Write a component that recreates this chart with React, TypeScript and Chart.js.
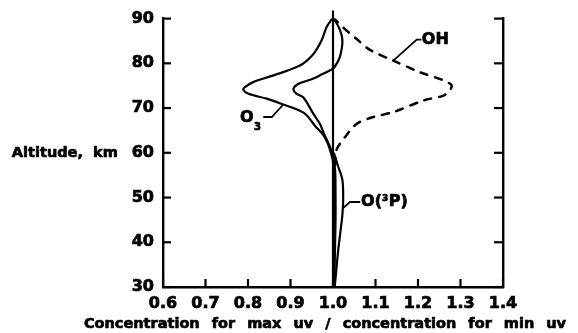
import React, { useEffect, useRef } from "react";
import { Chart, registerables } from "chart.js";

Chart.register(...registerables);

// ---- data (altitude km, ratio) ----
const xTicks = [0.6, 0.7, 0.8, 0.9, 1.0, 1.1, 1.2, 1.3, 1.4];
const yTicks = [30, 40, 50, 60, 70, 80, 90];

const refAlt = [30, 91.8];
const refVal = [1.0, 1.0];

const o3Alt = [90.3, 88.1, 85.1, 82.1, 79.5, 77.3, 75.8, 74.7, 74.1, 73.2, 72.1, 70.8, 69.5, 68.4, 66, 64, 62, 60, 58, 55, 50, 45, 40, 35, 30];
const o3Val = [1.0, 0.985, 0.973, 0.954, 0.922, 0.86, 0.812, 0.793, 0.789, 0.801, 0.844, 0.883, 0.92, 0.938, 0.958, 0.977, 0.988, 0.995, 1.0, 1.002, 1.002, 1.002, 1.001, 1.001, 1.0];

const innerAlt = [90.3, 88, 86, 84.5, 83, 81.4, 80, 78.8, 77.6, 76.6, 75.4, 74.3, 73.3, 72.4, 71, 68.7, 66.5, 64, 61.3, 59, 56, 50, 45, 40, 35, 30];
const innerVal = [1.0, 1.014, 1.021, 1.022, 1.02, 1.016, 1.009, 1.0, 0.975, 0.954, 0.918, 0.907, 0.913, 0.93, 0.94, 0.954, 0.969, 0.98, 0.993, 1.0, 1.005, 1.006, 1.006, 1.005, 1.004, 1.003];

const ohAlt = [90.3, 88, 85.5, 83, 80.6, 78, 76.2, 75.1, 74, 72.8, 71.7, 69.1, 68, 66.5, 63.5, 60.6, 57];
const ohVal = [1.0, 1.024, 1.055, 1.087, 1.142, 1.205, 1.26, 1.279, 1.275, 1.26, 1.213, 1.142, 1.095, 1.056, 1.028, 1.008, 1.005];

const opAlt = [60, 57, 54, 50, 46, 42, 38, 34, 30];
const opVal = [1.002, 1.012, 1.022, 1.024, 1.022, 1.017, 1.012, 1.008, 1.004];

const xTitle = "Concentration for max uv / concentration for min uv";
const yTitle = "Altitude, km";

const pts = (alt: number[], val: number[]) => alt.map((a, i) => ({ x: val[i], y: a }));

const FONT = '"DejaVu Sans", sans-serif';
const STROKE = 0.7;

const annotPlugin = {
  id: "annot",
  afterDraw(chart: any) {
    const { ctx, chartArea } = chart;
    const x = chart.scales.x;
    const y = chart.scales.y;
    const X = (v: number) => x.getPixelForValue(v);
    const Y = (v: number) => y.getPixelForValue(v);
    ctx.save();
    ctx.strokeStyle = "#000";
    ctx.fillStyle = "#000";
    ctx.lineWidth = 2.2;
    const line = (a: number, b: number, c: number, d: number) => {
      ctx.beginPath();
      ctx.moveTo(a, b);
      ctx.lineTo(c, d);
      ctx.stroke();
    };
    // inward ticks
    x.ticks.forEach((t: any) => {
      const px = X(t.value);
      line(px, chartArea.bottom, px, chartArea.bottom - 8);
    });
    y.ticks.forEach((t: any) => {
      const py = Y(t.value);
      line(chartArea.left, py, chartArea.left + 8, py);
      line(chartArea.right, py, chartArea.right - 9, py);
    });
    // leader lines
    ctx.lineWidth = 1.8;
    const poly = (p: number[][]) => {
      ctx.beginPath();
      p.forEach(([vx, vy], i) => (i ? ctx.lineTo(X(vx), Y(vy)) : ctx.moveTo(X(vx), Y(vy))));
      ctx.stroke();
    };
    poly([[1.142, 80.6], [1.197, 85.3], [1.208, 85.3]]);
    poly([[0.883, 70.8], [0.856, 68], [0.836, 68]]);
    poly([[1.022, 47.5], [1.04, 49], [1.064, 49]]);
    // labels
    ctx.lineWidth = STROKE;
    ctx.lineJoin = "round";
    const txt = (s: string, px: number, py: number) => {
      ctx.fillText(s, px, py);
      ctx.strokeText(s, px, py);
    };
    ctx.textBaseline = "middle";
    ctx.textAlign = "left";
    ctx.font = `bold 16px ${FONT}`;
    txt("OH", X(1.209), Y(85.3));
    // O3
    let lx = X(0.781);
    txt("O", lx, Y(67.8));
    lx += ctx.measureText("O").width + 0.5;
    ctx.font = `bold 10px ${FONT}`;
    txt("3", lx, Y(67.8) + 9);
    // O(3P)
    ctx.font = `bold 16px ${FONT}`;
    lx = X(1.066);
    const ly = Y(49);
    txt("O(", lx, ly);
    lx += ctx.measureText("O(").width;
    ctx.font = `bold 9px ${FONT}`;
    txt("3", lx, ly - 3);
    lx += ctx.measureText("3").width + 0.5;
    ctx.font = `bold 16px ${FONT}`;
    txt("P)", lx, ly);
    // y title inline with 60 tick label
    const w60 = ctx.measureText("60").width;
    ctx.textAlign = "right";
    ctx.font = `bold 14.5px ${FONT}`;
    (ctx as any).wordSpacing = "5px";
    txt(yTitle, chartArea.left - 9 - w60 - 14, Y(60));
    // x title
    ctx.textAlign = "center";
    (ctx as any).wordSpacing = "7px";
    txt(xTitle, (chartArea.left + chartArea.right) / 2 - 8, chart.height - 9);
    ctx.restore();
  },
};

export default function App() {
  const ref = useRef<HTMLCanvasElement | null>(null);
  useEffect(() => {
    const base = { showLine: true, pointRadius: 0, borderColor: "#000", borderWidth: 2.2, tension: 0.3, fill: false };
    const tickFont = { family: FONT, size: 16, weight: "bold" };
    const chart = new Chart(ref.current as HTMLCanvasElement, {
      type: "scatter",
      data: {
        datasets: [
          { ...base, label: "ref", data: pts(refAlt, refVal), tension: 0, clip: false } as any,
          { ...base, label: "O3", data: pts(o3Alt, o3Val) },
          { ...base, label: "inner", data: pts(innerAlt, innerVal) },
          { ...base, label: "OH", data: pts(ohAlt, ohVal), borderDash: [7, 8], borderCapStyle: "round", borderWidth: 2.5 },
          { ...base, label: "O(3P)", data: pts(opAlt, opVal) },
        ],
      },
      options: {
        responsive: false,
        animation: false,
        layout: { padding: { top: 18, left: 0, right: 0, bottom: 0 } },
        plugins: { legend: { display: false }, tooltip: { enabled: false } },
        scales: {
          x: {
            type: "linear",
            min: 0.6,
            max: 1.4,
            afterBuildTicks: (s: any) => {
              s.ticks = xTicks.map((v) => ({ value: v }));
            },
            ticks: {
              color: "#000",
              padding: 7,
              font: tickFont,
              textStrokeColor: "#000",
              textStrokeWidth: STROKE,
              callback: (v: any) => Number(v).toFixed(1),
            },
            grid: { drawOnChartArea: false, drawTicks: false },
            border: { color: "#000", width: 2.4 },
            afterFit: (s: any) => {
              s.height = 46;
            },
          },
          y: {
            type: "linear",
            position: "left",
            min: 30,
            max: 90,
            afterBuildTicks: (s: any) => {
              s.ticks = yTicks.map((v) => ({ value: v }));
            },
            ticks: {
              color: "#000",
              padding: 9,
              font: tickFont,
              textStrokeColor: "#000",
              textStrokeWidth: STROKE,
            },
            grid: { drawOnChartArea: false, drawTicks: false },
            border: { color: "#000", width: 2.4 },
            afterFit: (s: any) => {
              s.width = 163;
            },
          },
          y2: {
            type: "linear",
            position: "right",
            min: 30,
            max: 90,
            ticks: { display: false },
            grid: { drawOnChartArea: false, drawTicks: false },
            border: { color: "#000", width: 2.4 },
            afterFit: (s: any) => {
              s.width = 75;
            },
          },
        },
      } as any,
      plugins: [annotPlugin],
    });
    return () => chart.destroy();
  }, []);
  return (
    <div style={{ position: "fixed", left: 0, top: 0, width: 578, height: 333, background: "#fff" }}>
      <canvas ref={ref} width={578} height={333} />
    </div>
  );
}
